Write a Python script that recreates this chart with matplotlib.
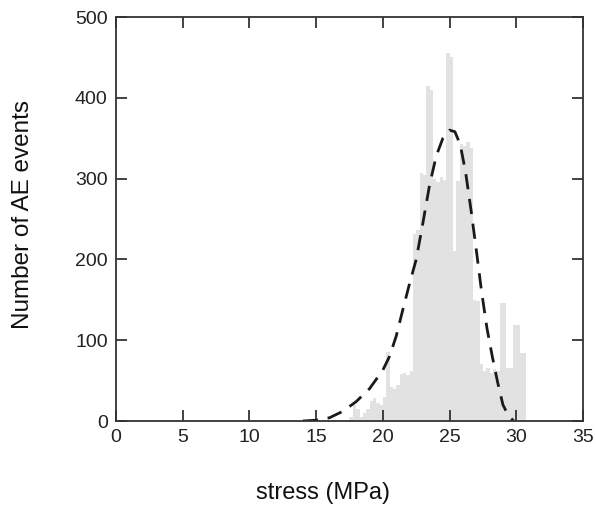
import matplotlib
matplotlib.use("Agg")
import matplotlib.pyplot as plt
import numpy as np

# Histogram: left bin edges (MPa), bin width 0.25, counts
bin_left = [17.50, 17.75, 18.00, 18.25, 18.50, 18.75, 19.00, 19.25, 19.50, 19.75,
            20.00, 20.25, 20.50, 20.75, 21.00, 21.25, 21.50, 21.75, 22.00, 22.25,
            22.50, 22.75, 23.00, 23.25, 23.50, 23.75, 24.00, 24.25, 24.50, 24.75,
            25.00, 25.25, 25.50, 25.75, 26.00, 26.25, 26.50, 26.75, 27.00, 27.25,
            27.50, 27.75, 28.00, 28.25, 28.50, 28.75, 29.00, 29.25, 29.50, 29.75,
            30.00, 30.25, 30.50]
counts = [5, 20, 15, 5, 10, 15, 25, 28, 22, 20,
          30, 85, 42, 40, 44, 58, 60, 57, 62, 232,
          237, 307, 305, 414, 410, 300, 296, 302, 298, 456,
          450, 211, 297, 343, 340, 345, 338, 150, 148, 70,
          62, 66, 60, 64, 62, 146, 146, 65, 65, 119,
          119, 84, 84]
bin_width = 0.25

# Fitted distribution (dashed curve)
fit_x = [14.0, 15.0, 16.0, 17.0, 18.0, 19.0, 20.0, 20.5, 21.0, 21.5, 22.0, 22.5,
         23.0, 23.5, 24.0, 24.5, 25.0, 25.4, 25.8, 26.2, 26.6, 27.0, 27.4, 27.8,
         28.2, 28.6, 29.0, 29.4, 29.8]
fit_y = [0, 1, 4, 12, 24, 40, 63, 80, 105, 138, 170, 200,
         245, 292, 328, 350, 360, 358, 342, 308, 262, 212, 160, 115,
         80, 48, 20, 7, 0]

xticks = [0, 5, 10, 15, 20, 25, 30, 35]
yticks = [0, 100, 200, 300, 400, 500]

plt.rcParams['font.family'] = ['Liberation Sans', 'DejaVu Sans']

fig = plt.figure(figsize=(5.96, 5.11), dpi=100)
ax = fig.add_axes([116/596, 90/511, (583-116)/596, (421-17)/511])

ax.bar(bin_left, counts, width=bin_width, align='edge', color='#e2e2e2',
       edgecolor='none', linewidth=0, zorder=1)
ax.plot(fit_x, fit_y, color='#1a1a1a', lw=2.0, linestyle=(0, (5.5, 3.5)), zorder=2)

ax.set_xlim(0, 35)
ax.set_ylim(0, 500)
ax.set_xticks(xticks)
ax.set_yticks(yticks)
ax.tick_params(direction='in', length=8, width=1.2, top=True, right=True,
               labelsize=14, colors='#222222', pad=6)
for s in ax.spines.values():
    s.set_linewidth(1.3)
    s.set_color('#333333')

ax.set_xlabel('stress (MPa)', fontsize=17, color='#111111')
ax.xaxis.set_label_coords((323 - 116) / (583 - 116), -0.152)
ax.set_ylabel('Number of AE events', fontsize=17.5, color='#111111')
ax.yaxis.set_label_coords(-(116 - 34) / (583 - 116), 0.51)

fig.savefig('out.png', dpi=100)
